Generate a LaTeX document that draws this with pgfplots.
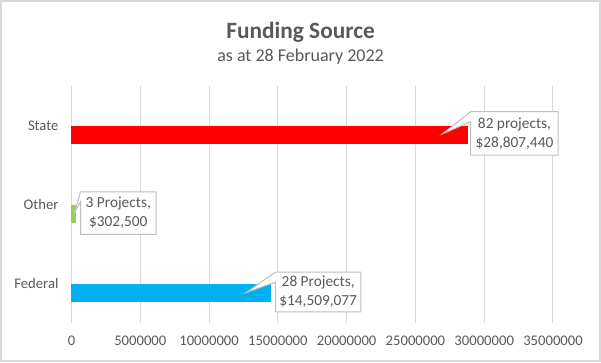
\documentclass[border=0pt]{standalone}
\usepackage{fontspec}
\setmainfont{Carlito}
\usepackage{pgfplots}
\pgfplotsset{compat=1.18}
\definecolor{txt}{HTML}{595959}
\definecolor{gridc}{HTML}{D9D9D9}
\definecolor{framec}{HTML}{D9D9D9}
\definecolor{boxc}{HTML}{BFBFBF}
\definecolor{stateC}{HTML}{FF0000}
\definecolor{otherC}{HTML}{92D050}
\definecolor{fedC}{HTML}{00B0F0}
\newcommand{\callout}[5]{% #1 name, #2 center, #3 width, #4 height, #5 tip
  \node[inner sep=0pt, minimum width=#3, minimum height=#4] (#1) at #2 {};
  \draw[boxc, fill=white, line width=0.75pt, line join=miter]
    (#1.north west) -- (#1.north east) -- (#1.south east) -- (#1.south west)
    -- ([yshift=-7.5pt]#1.north west) -- #5 -- cycle;
}
\begin{document}
\begin{tikzpicture}
\path[use as bounding box] (0,0) rectangle (450.75pt,271.5pt);
\draw[color=framec, line width=1.2pt] (0.6pt,0.6pt) rectangle (450.15pt,270.9pt);
\node[text=txt, font=\fontsize{17.5}{20}\selectfont\bfseries] at (225.4pt,247pt) {Funding Source};
\node[text=txt, font=\fontsize{13.5}{16}\selectfont] at (225.4pt,229pt) {as at 28 February 2022};
\begin{axis}[
  at={(53.625pt,29.25pt)}, anchor=south west,
  width=361.125pt, height=177.75pt, scale only axis,
  xmin=0, xmax=35000000, ymin=-0.5, ymax=2.5,
  xtick={0,5000000,10000000,15000000,20000000,25000000,30000000,35000000},
  scaled x ticks=false,
  xticklabel style={/pgf/number format/fixed, /pgf/number format/1000 sep={}, /pgf/number format/assume math mode=true, text=txt, font=\fontsize{11}{13}\selectfont, yshift=-6pt},
  ytick={0,1,2}, yticklabels={Federal,Other,State},
  yticklabel style={text=txt, font=\fontsize{11}{13}\selectfont, xshift=-2pt},
  xmajorgrids, major grid style={color=gridc, line width=0.75pt},
  axis line style={draw=none}, tick style={draw=none},
  xbar, bar width=13.5pt, bar shift=-6.75pt,
  clip=false,
]
\addplot[fill=fedC, draw=none] coordinates {(14509077,0)};
\addplot[fill=otherC, draw=none] coordinates {(302500,1)};
\addplot[fill=stateC, draw=none] coordinates {(28807440,2)};
\callout{cs}{(axis cs:32200000,1.899)}{65.25pt}{32.25pt}{(axis cs:26980000,1.896)}
\node[align=center, text=txt, font=\fontsize{11.5}{14}\selectfont] at (cs.center) {82 projects,\\\$28,807,440};
\callout{co}{(axis cs:3400000,0.892)}{56.25pt}{31.5pt}{(axis cs:200000,0.889)}
\node[align=center, text=txt, font=\fontsize{11.5}{14}\selectfont] at (co.center) {3 Projects,\\\$302,500};
\callout{cf}{(axis cs:17930000,-0.108)}{63.75pt}{29.5pt}{(axis cs:12680000,-0.116)}
\node[align=center, text=txt, font=\fontsize{11.5}{14}\selectfont] at (cf.center) {28 Projects,\\\$14,509,077};
\end{axis}
\end{tikzpicture}
\end{document}
